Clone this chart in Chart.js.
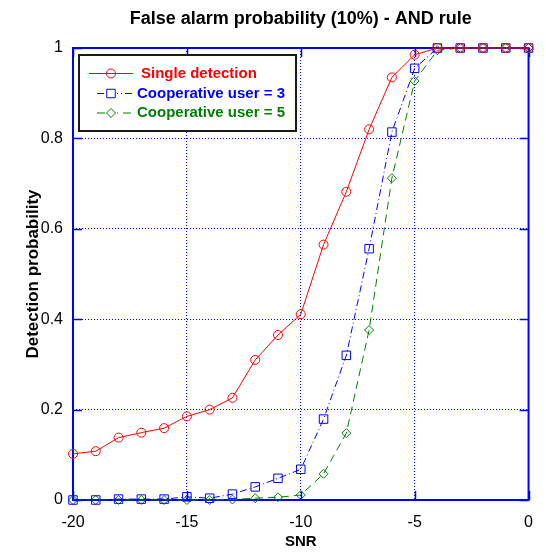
<!DOCTYPE html>
<html>
<head>
<meta charset="utf-8">
<script src="https://cdn.jsdelivr.net/npm/chart.js@4/dist/chart.umd.min.js"></script>
<style>
html,body{margin:0;padding:0;background:#fff;}
#wrap{width:546px;height:554px;position:relative;}
</style>
</head>
<body>
<div id="wrap"><canvas id="c" width="546" height="554"></canvas></div>
<script>
const chartTitle = 'False alarm probability (10%) - AND rule';
const xTitle = 'SNR';
const yTitle = 'Detection probability';
const seriesNames = ['Single detection', 'Cooperative user = 3', 'Cooperative user = 5'];

const snr = [-20,-19,-18,-17,-16,-15,-14,-13,-12,-11,-10,-9,-8,-7,-6,-5,-4,-3,-2,-1,0];
const singleDetection = [0.102,0.108,0.138,0.149,0.159,0.185,0.200,0.226,0.310,0.365,0.411,0.565,0.682,0.820,0.935,0.985,1,1,1,1,1];
const coopUser3 = [0.000,0.000,0.002,0.002,0.002,0.007,0.004,0.013,0.029,0.048,0.068,0.179,0.320,0.556,0.814,0.955,1,1,1,1,1];
const coopUser5 = [0.000,0.000,0.000,0.000,0.000,0.000,0.000,0.001,0.004,0.006,0.011,0.058,0.148,0.376,0.712,0.927,0.995,1,1,1,1];

const xTickValues = [-20,-15,-10,-5,0];
const xTickLabels = ['-20','-15','-10','-5','0'];
const yTickValues = [0,0.2,0.4,0.6,0.8,1];
const yTickLabels = ['0','0.2','0.4','0.6','0.8','1'];

const FONT = "'Liberation Sans', Arial, sans-serif";
const BLUE = '#0000ff';

const styles = [
  {color:'#ff0000', dash:[], pointStyle:'circle', radius:4.5},
  {color:'#0000ff', dash:[7,3,1,3], pointStyle:'rect', radius:6},
  {color:'#007f00', dash:[8,5], pointStyle:'rectRot', radius:4.5}
];
const seriesValues = [singleDetection, coopUser3, coopUser5];

const datasets = seriesValues.map((vals, k) => ({
  label: seriesNames[k],
  data: snr.map((x, i) => ({x: x, y: vals[i]})),
  borderColor: styles[k].color,
  backgroundColor: 'rgba(0,0,0,0)',
  borderWidth: 1,
  borderDash: styles[k].dash,
  pointStyle: styles[k].pointStyle,
  pointRadius: styles[k].radius,
  pointBorderColor: styles[k].color,
  pointBackgroundColor: 'rgba(0,0,0,0)',
  pointBorderWidth: 1,
  tension: 0,
  fill: false,
  clip: false
}));

function drawMarker(ctx, style, x, y) {
  const r = style.radius;
  ctx.beginPath();
  if (style.pointStyle === 'circle') {
    ctx.arc(x, y, r, 0, Math.PI * 2);
  } else if (style.pointStyle === 'rect') {
    const s = r * Math.SQRT1_2;
    ctx.rect(x - s, y - s, 2 * s, 2 * s);
  } else {
    ctx.moveTo(x, y - r); ctx.lineTo(x + r, y); ctx.lineTo(x, y + r); ctx.lineTo(x - r, y); ctx.closePath();
  }
  ctx.stroke();
}

const framePlugin = {
  id: 'frame',
  beforeDatasetsDraw(chart) {
    const {ctx, chartArea: a, scales} = chart;
    ctx.save();
    ctx.strokeStyle = BLUE;
    ctx.lineWidth = 2;
    ctx.setLineDash([]);
    ctx.strokeRect(a.left, a.top, a.right - a.left, a.bottom - a.top);
    const tl = 9;
    ctx.lineWidth = 1.5;
    ctx.beginPath();
    xTickValues.forEach(v => {
      const px = Math.round(scales.x.getPixelForValue(v)) + 0.5;
      ctx.moveTo(px, a.bottom); ctx.lineTo(px, a.bottom - tl);
      ctx.moveTo(px, a.top); ctx.lineTo(px, a.top + tl);
    });
    yTickValues.forEach(v => {
      const py = Math.round(scales.y.getPixelForValue(v)) + 0.5;
      ctx.moveTo(a.left, py); ctx.lineTo(a.left + tl, py);
      ctx.moveTo(a.right, py); ctx.lineTo(a.right - tl, py);
    });
    ctx.stroke();
    ctx.restore();
  },
  afterDraw(chart) {
    const {ctx, chartArea: a} = chart;
    ctx.save();
    // title
    ctx.fillStyle = '#000';
    ctx.font = 'bold 18px ' + FONT;
    ctx.textAlign = 'center';
    ctx.textBaseline = 'middle';
    ctx.fillText(chartTitle, (a.left + a.right) / 2, 19);
    // legend
    const bx = 79, by = 55, bw = 217, bh = 76;
    ctx.fillStyle = '#fff';
    ctx.fillRect(bx, by, bw, bh);
    ctx.strokeStyle = '#1a1a1a';
    ctx.lineWidth = 2;
    ctx.strokeRect(bx, by, bw, bh);
    const rowsY = [73.5, 93.5, 113];
    const textX = [141, 137, 137];
    ctx.font = 'bold 15px ' + FONT;
    ctx.textAlign = 'left';
    ctx.textBaseline = 'middle';
    styles.forEach((st, k) => {
      const y = rowsY[k];
      ctx.strokeStyle = st.color;
      ctx.lineWidth = 1;
      ctx.setLineDash(st.dash);
      ctx.beginPath();
      ctx.moveTo(k === 0 ? 89 : 97, y);
      ctx.lineTo(133, y);
      ctx.stroke();
      ctx.setLineDash([]);
      if (k > 0) { ctx.fillStyle = '#fff'; ctx.fillRect(105, y - 6, 12, 12); }
      drawMarker(ctx, st, 111, y);
      ctx.fillStyle = st.color;
      ctx.fillText(seriesNames[k], textX[k], y);
    });
    ctx.restore();
  }
};

new Chart(document.getElementById('c'), {
  type: 'line',
  data: { datasets: datasets },
  options: {
    responsive: false,
    devicePixelRatio: 1,
    animation: false,
    layout: { padding: { left: 0, right: 14, top: 48, bottom: 0 } },
    plugins: {
      legend: { display: false },
      title: { display: false },
      tooltip: { enabled: false }
    },
    scales: {
      x: {
        type: 'linear',
        min: -20, max: 0,
        afterBuildTicks: s => { s.ticks = xTickValues.map(v => ({value: v})); },
        afterFit: s => { s.height = 54; },
        ticks: {
          callback: v => { const i = xTickValues.indexOf(v); return i >= 0 ? xTickLabels[i] : ''; },
          font: { family: FONT, size: 16 },
          color: '#000',
          padding: 13,
          maxRotation: 0,
          autoSkip: false
        },
        grid: { color: BLUE, lineWidth: 1, drawTicks: false },
        border: { display: false, dash: [1, 2] },
        title: { display: true, text: xTitle, color: '#000', font: { family: FONT, size: 15, weight: 'bold' }, padding: { top: 0, bottom: 3 } }
      },
      y: {
        type: 'linear',
        min: 0, max: 1,
        afterBuildTicks: s => { s.ticks = yTickValues.map(v => ({value: v})); },
        afterFit: s => { s.width = 73; },
        ticks: {
          callback: v => { const i = yTickValues.findIndex(t => Math.abs(t - v) < 1e-9); return i >= 0 ? yTickLabels[i] : ''; },
          font: { family: FONT, size: 16 },
          color: '#000',
          padding: 10,
          autoSkip: false
        },
        grid: { color: BLUE, lineWidth: 1, drawTicks: false },
        border: { display: false, dash: [1, 2] },
        title: { display: true, text: yTitle, color: '#000', font: { family: FONT, size: 17, weight: 'bold' }, padding: { top: 23, bottom: 0 } }
      }
    }
  },
  plugins: [framePlugin]
});
</script>
</body>
</html>
